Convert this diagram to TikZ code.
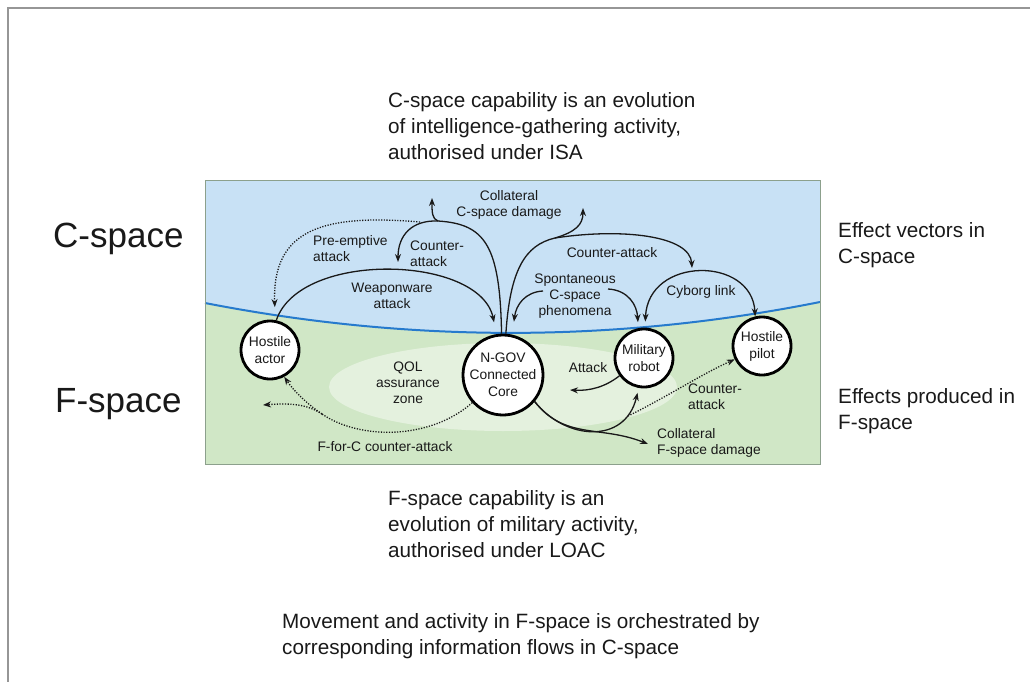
\documentclass[tikz,border=0pt]{standalone}
\usepackage{fontspec}
\setmainfont{Liberation Sans}
\usetikzlibrary{arrows.meta}
\definecolor{cspace}{RGB}{200,225,245}
\definecolor{fspace}{RGB}{208,231,198}
\definecolor{qol}{RGB}{228,241,222}
\definecolor{edgeblue}{RGB}{38,122,205}
\definecolor{boxline}{RGB}{140,160,140}
\definecolor{framegray}{RGB}{150,150,150}
\definecolor{ink}{RGB}{25,25,25}
\begin{document}
\begin{tikzpicture}[x=1pt,y=-1pt,
  lbl/.style={font=\fontsize{13.8}{16}\selectfont, text=ink, inner sep=0pt, align=center},
  lbll/.style={lbl, align=left, anchor=west},
  sidenote/.style={font=\fontsize{20.7}{26}\selectfont, text=ink, inner sep=0pt, align=left, anchor=west},
  bigname/.style={font=\fontsize{35}{40}\selectfont, text=ink, inner sep=0pt, anchor=west},
  actor/.style={circle, draw=black, line width=2.8pt, fill=white, inner sep=0pt, minimum size=#1},
  ntext/.style={lbl, font=\fontsize{13.8}{17}\selectfont},
  plainline/.style={draw=ink, line width=1.3pt},
  arr/.style={plainline, -{Stealth[length=8pt,width=6pt]}},
  dotline/.style={plainline, dash pattern=on 1.2pt off 1.5pt},
  dots/.style={arr, dash pattern=on 1.2pt off 1.5pt}
]
\useasboundingbox (0,0) rectangle (1030,682);
\draw[framegray, line width=1.5pt] (8,682) -- (8,8) -- (1030,8);

% regions
\fill[cspace] (205,180) rectangle (820,464);
\fill[fspace] (205,303) .. controls (410,343) and (615,343) .. (820,302) -- (820,464) -- (205,464) -- cycle;
\fill[qol] (503,387) ellipse [x radius=174, y radius=44];
\draw[edgeblue, line width=2pt] (205,303) .. controls (410,343) and (615,343) .. (820,302);
\draw[boxline, line width=1pt] (205,180) rectangle (820,464);

% actors
\node[actor=58pt] (hactor) at (270,350) {};
\node[actor=80pt] (ngov) at (503,375) {};
\node[actor=58pt] (robot) at (644,358) {};
\node[actor=58pt] (pilot) at (762,346) {};

% free ends
\coordinate (splitL) at (438,221);
\coordinate (splitR) at (555,238);
\coordinate (preS) at (420,222);
\coordinate (tipCL) at (432,198);
\coordinate (tipCR) at (583,208);
\coordinate (tipCAL) at (398,262);
\coordinate (tipCAR) at (692,268);
\coordinate (spL) at (543,291);
\coordinate (spR) at (608,289);
\coordinate (tipAtk) at (570,390);
\coordinate (tipCF) at (648,444);
\coordinate (fcStart) at (628,416);
\coordinate (fork) at (322,414);
\coordinate (tipFF) at (263,405);

% C-space connectors
\draw[plainline] (ngov.92) .. controls (500,245) and (485,224) .. (splitL);
\draw[arr] (splitL) .. controls (432,219) and (432,212) .. (tipCL);
\draw[arr] (splitL) .. controls (412,220) and (398,235) .. (tipCAL);
\draw[dots, shorten >=13pt] (preS) .. controls (325,214) and (272,228) .. (hactor.80);
\draw[arr, shorten >=12pt] (hactor.78) .. controls (300,250) and (480,255) .. (ngov.99);
\draw[plainline] (ngov.86) .. controls (510,270) and (525,245) .. (splitR);
\draw[arr] (splitR) .. controls (575,232) and (583,225) .. (tipCR);
\draw[arr] (splitR) .. controls (620,228) and (690,235) .. (tipCAR);
\draw[arr, shorten >=13pt] (spL) .. controls (525,292) and (516,305) .. (ngov.77);
\draw[arr, shorten >=6pt] (spR) .. controls (628,290) and (637,305) .. (robot.101);
\draw[plainline, {Stealth[length=8pt,width=6pt]}-{Stealth[length=8pt,width=6pt]}, shorten <=6pt] (robot.88) .. controls (648,256) and (752,256) .. (pilot.103);

% F-space connectors
\draw[arr] (robot.216) .. controls (605,387) and (590,391) .. (tipAtk);
\draw[arr, shorten >=5pt] (ngov.-40) .. controls (565,440) and (625,445) .. (robot.260);
\draw[arr] (ngov.-40) .. controls (565,440) and (600,425) .. (tipCF);
\draw[dots] (fcStart) .. controls (665,398) and (700,375) .. (pilot.206);
\draw[dotline] (ngov.222) .. controls (430,440) and (360,440) .. (fork);
\draw[dots] (fork) .. controls (307,404) and (293,390) .. (hactor.-62);
\draw[dots] (fork) .. controls (307,404) and (290,403) .. (tipFF);

% node texts
\node[ntext] (tactor) at (hactor) {Hostile\\actor};
\node[ntext] (tngov) at (ngov) {N-GOV\\Connected\\Core};
\node[ntext] (trobot) at (robot) {Military\\robot};
\node[ntext] (tpilot) at (pilot) {Hostile\\pilot};

% labels
\node[lbl] (lcc) at (509,205) {Collateral\\C-space damage};
\node[lbll] (lpre) at (313,249) {Pre-emptive\\attack};
\node[lbll] (lcal) at (410,254) {Counter-\\attack};
\node[lbl] (lweap) at (392,296) {Weaponware\\attack};
\node[lbl] (lcar) at (612,253) {Counter-attack};
\node[lbl] (lspont) at (575,296) {Spontaneous\\C-space\\phenomena};
\node[lbl] (lcyb) at (701,292) {Cyborg link};
\node[lbl] (lqol) at (408,383) {QOL\\assurance\\zone};
\node[lbl] (latk) at (588,368) {Attack};
\node[lbll] (lcaf) at (688,397) {Counter-\\attack};
\node[lbll] (lcf) at (657,443) {Collateral\\F-space damage};
\node[lbl] (lffc) at (385,447) {F-for-C counter-attack};

% side texts
\node[bigname] (cname) at (53,239) {C-space};
\node[bigname] (fname) at (55,404) {F-space};
\node[sidenote] (ceff) at (838,245) {Effect vectors in\\C-space};
\node[sidenote] (feff) at (838,411) {Effects produced in\\F-space};
\node[sidenote] (ctop) at (388,126) {C-space capability is an evolution\\of intelligence-gathering activity,\\authorised under ISA};
\node[sidenote] (fbot) at (388,524) {F-space capability is an\\evolution of military activity,\\authorised under LOAC};
\node[sidenote] (move) at (282,636) {Movement and activity in F-space is orchestrated by\\corresponding information flows in C-space};
\end{tikzpicture}
\end{document}
